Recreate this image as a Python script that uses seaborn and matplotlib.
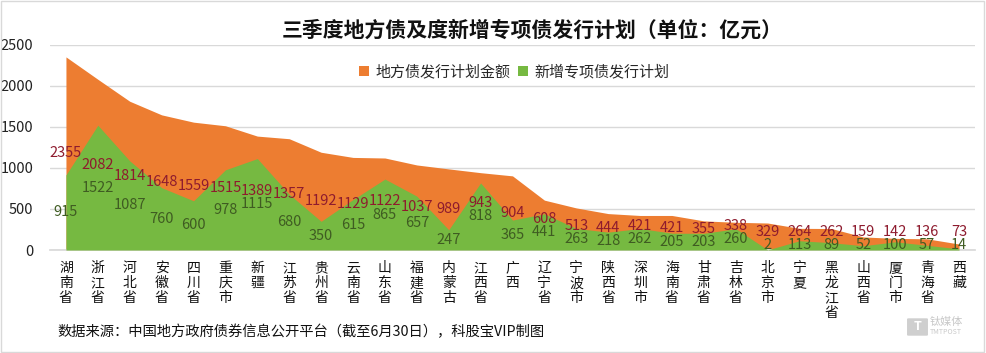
import matplotlib
matplotlib.use("Agg")
import matplotlib.pyplot as plt
from matplotlib.patches import FancyBboxPatch, Rectangle
import numpy as np
import pandas as pd
import seaborn as sns

regions = ["湖南省", "浙江省", "河北省", "安徽省", "四川省", "重庆市", "新疆", "江苏省",
           "贵州省", "云南省", "山东省", "福建省", "内蒙古", "江西省", "广西", "辽宁省",
           "宁波市", "陕西省", "深圳市", "海南省", "甘肃省", "吉林省", "北京市", "宁夏",
           "黑龙江省", "山西省", "厦门市", "青海省", "西藏"]
total_plan = [2355, 2082, 1814, 1648, 1559, 1515, 1389, 1357, 1192, 1129, 1122, 1037, 989,
              943, 904, 608, 513, 444, 421, 421, 355, 338, 329, 264, 262, 159, 142, 136, 73]
special_new = [915, 1522, 1087, 760, 600, 978, 1115, 680, 350, 615, 865, 657, 247,
               818, 365, 441, 263, 218, 262, 205, 203, 260, 2, 113, 89, 52, 100, 57, 14]
yticks = [0, 500, 1000, 1500, 2000, 2500]

ORANGE = "#ED7D31"
GREEN = "#76B941"

sns.set_theme(style="white")
plt.rcParams["font.family"] = ["Noto Sans CJK SC", "DejaVu Sans"]

df = pd.DataFrame({"region": regions, "total": total_plan, "special": special_new})
df["x"] = np.arange(len(df))

# labels sit mid-height; keep the two labels of a column from colliding
df["g_lab"] = np.maximum(df["special"] / 2, 60)
df["o_lab"] = np.maximum(df["total"] / 2, df["g_lab"] + 160)

fig = plt.figure(figsize=(9.86, 3.53), dpi=100)
ax = fig.add_axes([50 / 986, 1 - 250 / 353, 925 / 986, 205 / 353])

ax.fill_between(df["x"], 0, df["total"], color=ORANGE, lw=0, label="地方债发行计划金额", zorder=2)
ax.fill_between(df["x"], 0, df["special"], color=GREEN, lw=0, label="新增专项债发行计划", zorder=3)

for _, r in df.iterrows():
    ax.text(r["x"], r["o_lab"], f"{r['total']}", ha="center", va="center",
            fontsize=10.5, color="#8E1B2E", zorder=5)
    ax.text(r["x"], r["g_lab"], f"{r['special']}", ha="center", va="center",
            fontsize=10.5, color="#3F5C22", zorder=5)

ax.set_xlim(-0.5, len(df) - 0.5)
ax.set_ylim(0, 2500)
ax.set_yticks(yticks)
ax.set_yticklabels([str(t) for t in yticks], fontsize=10.5, color="#222222")
ax.yaxis.grid(True, color="#D9D9D9", lw=1)
ax.set_axisbelow(True)
ax.set_xticks(df["x"])
ax.set_xticklabels(["\n".join(n) for n in df["region"]], fontsize=10,
                   linespacing=1.1, va="top", color="#111111")
ax.tick_params(axis="x", length=0, pad=8)
ax.tick_params(axis="y", length=0, pad=12)
for s in ["top", "right", "left"]:
    ax.spines[s].set_visible(False)
ax.spines["bottom"].set_color("#D9D9D9")

fig.text(532 / 986, 1 - 30 / 353, "三季度地方债及度新增专项债发行计划（单位：亿元）",
         ha="center", va="center", fontsize=15, fontweight="bold", color="#111111")
fig.legend(loc="center", bbox_to_anchor=(514 / 986, 1 - 72 / 353), ncol=2,
           frameon=False, fontsize=10.8, handlelength=0.7, handleheight=0.7,
           handletextpad=0.4, columnspacing=0.5)
fig.text(57 / 986, 1 - 332 / 353, "数据来源：中国地方政府债券信息公开平台（截至6月30日），科股宝VIP制图",
         ha="left", va="center", fontsize=10.3, color="#111111")

# watermark
fig.patches.append(FancyBboxPatch((909 / 986, 1 - 335 / 353), 17 / 986, 16 / 353,
                                  boxstyle="round,pad=0.002", transform=fig.transFigure,
                                  facecolor="#CFCFCF", edgecolor="none"))
fig.text(917.5 / 986, 1 - 327 / 353, "T", ha="center", va="center", fontsize=9,
         fontweight="bold", color="white")
fig.text(930 / 986, 1 - 322 / 353, "钛媒体", ha="left", va="center", fontsize=8, color="#C8C8C8")
fig.text(930 / 986, 1 - 332 / 353, "TMTPOST", ha="left", va="center", fontsize=5, color="#C8C8C8")

fig.patches.append(Rectangle((0.001, 0.002), 0.997, 0.995, transform=fig.transFigure,
                             fill=False, edgecolor="#D9D9D9", lw=1))
fig.savefig("out.png", dpi=100)
